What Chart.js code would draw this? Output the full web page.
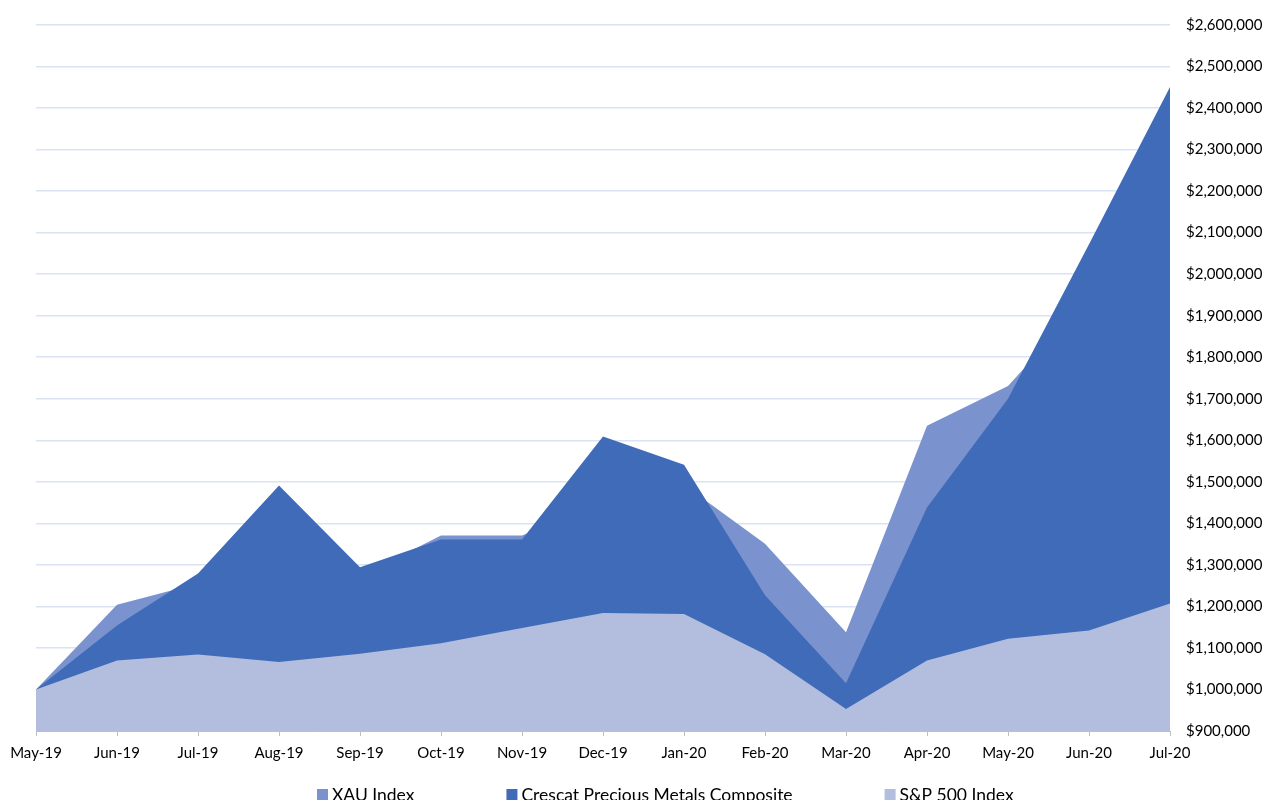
<!DOCTYPE html>
<html>
<head>
<meta charset="utf-8">
<script src="https://cdn.jsdelivr.net/npm/chart.js@4/dist/chart.umd.min.js"></script>
<style>
  html, body { margin: 0; padding: 0; background: #fff; overflow: hidden; }
  #wrap { width: 1264px; height: 800px; position: relative; }
</style>
</head>
<body>
<div id="wrap"><canvas id="growth"></canvas></div>
<script>
const months = [
  "May-19", "Jun-19", "Jul-19", "Aug-19", "Sep-19", "Oct-19", "Nov-19", "Dec-19",
  "Jan-20", "Feb-20", "Mar-20", "Apr-20", "May-20", "Jun-20", "Jul-20",
];
const xauIndex = [
  1000000, 1204000, 1255000, 1330000, 1272000, 1371000, 1371000, 1450000,
  1493000, 1351000, 1138000, 1635000, 1731000, 1945000, 2050000,
];
const crescatComposite = [
  1000000, 1154000, 1279000, 1491000, 1294000, 1361000, 1361000, 1609000,
  1541000, 1227000, 1015000, 1438000, 1700000, 2072000, 2451000,
];
const sp500Index = [
  1000000, 1070000, 1084000, 1066000, 1086000, 1111000, 1148000, 1184000,
  1182000, 1085000, 953000, 1070000, 1122000, 1142000, 1207000,
];
const yMin = 900000;
const yMax = 2600000;
const yStep = 100000;

const fontFamily = "Lato, 'Open Sans', sans-serif";

// legend drawn under the axis, partly cut by the bottom edge like the original
const bottomLegend = {
  id: "bottomLegend",
  afterDraw(chart) {
    const ctx = chart.ctx;
    const items = chart.data.datasets.map((ds) => ({ text: ds.label, color: ds.backgroundColor }));
    const box = 11;
    const gap = 4;
    const spacing = 92;
    ctx.save();
    ctx.font = "17.5px " + fontFamily;
    ctx.textBaseline = "alphabetic";
    ctx.textAlign = "left";
    let x = 317;
    const baseY = 800;
    items.forEach((it) => {
      ctx.fillStyle = it.color;
      ctx.fillRect(x, baseY - box, box, box);
      ctx.fillStyle = "#000";
      ctx.fillText(it.text, x + box + gap, baseY + 1);
      x += box + gap + ctx.measureText(it.text).width + spacing;
    });
    ctx.restore();
  },
};

new Chart(document.getElementById("growth"), {
  type: "line",
  data: {
    labels: months,
    datasets: [
      {
        label: "XAU Index",
        data: xauIndex,
        backgroundColor: "#7a92ce",
        borderWidth: 0,
        fill: "start",
        order: 3,
      },
      {
        label: "Crescat Precious Metals Composite",
        data: crescatComposite,
        backgroundColor: "#406bb8",
        borderWidth: 0,
        fill: "start",
        order: 2,
      },
      {
        label: "S&P 500 Index",
        data: sp500Index,
        backgroundColor: "#b3bedf",
        borderWidth: 0,
        fill: "start",
        order: 1,
      },
    ],
  },
  options: {
    responsive: true,
    maintainAspectRatio: false,
    animation: false,
    elements: {
      point: { radius: 0, hoverRadius: 0 },
      line: { tension: 0 },
    },
    layout: {
      padding: { left: 36, top: 23, right: 0, bottom: 34 },
    },
    scales: {
      x: {
        offset: false,
        grid: {
          drawOnChartArea: false,
          drawTicks: true,
          tickLength: 5,
          color: "#bfbfbf",
        },
        border: { color: "#bfbfbf" },
        ticks: {
          color: "#000",
          padding: 8,
          maxRotation: 0,
          autoSkip: false,
          font: { family: fontFamily, size: 15 },
        },
        afterFit: (scale) => {
          scale.height = 35;
        },
      },
      y: {
        position: "right",
        min: yMin,
        max: yMax,
        grid: {
          color: "#d9e3f4",
          lineWidth: 1.5,
          drawTicks: false,
        },
        border: { display: false },
        ticks: {
          stepSize: yStep,
          color: "#000",
          padding: 16,
          font: { family: fontFamily, size: 15 },
          callback: (value) => "$" + value.toLocaleString("en-US"),
        },
        afterFit: (scale) => {
          scale.width = 94;
        },
      },
    },
    plugins: {
      legend: { display: false },
      tooltip: { enabled: false },
    },
  },
  plugins: [bottomLegend],
});
</script>
</body>
</html>
